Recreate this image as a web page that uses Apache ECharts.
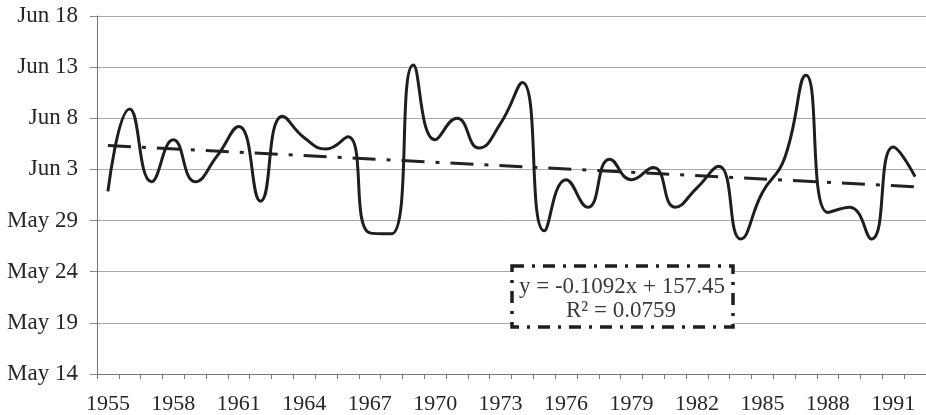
<!DOCTYPE html>
<html>
<head>
<meta charset="utf-8">
<script src="https://cdn.jsdelivr.net/npm/echarts@6/dist/echarts.min.js"></script>
<style>
  html, body { margin: 0; padding: 0; background: #ffffff; }
  #chart { width: 926px; height: 415px; }
</style>
</head>
<body>
<div id="chart"></div>
<script>
// Years on the category axis (labels shown every third year)
const years = [
  '1955','1956','1957','1958','1959','1960','1961','1962','1963','1964',
  '1965','1966','1967','1968','1969','1970','1971','1972','1973','1974',
  '1975','1976','1977','1978','1979','1980','1981','1982','1983','1984',
  '1985','1986','1987','1988','1989','1990','1991','1992'
];

// Date of each year's event as a day number (135 = May 14, 170 = Jun 18)
const eventDay = [
  152.85, 160.9, 153.8, 157.9, 153.8, 156.3, 159.2, 151.9, 160.2, 158.1,
  157.0, 158.2, 148.8, 148.7, 165.2, 157.9, 160.0, 157.1, 159.5, 163.5,
  149.0, 154.0, 151.3, 156.0, 154.0, 155.2, 151.3, 153.2, 155.3, 148.2,
  152.75, 156.0, 164.2, 150.8, 151.3, 148.2, 157.2, 154.3
];

// Linear trend y = -0.1092x + 157.45 at its first and last year
const trendEnds = [157.34, 153.30];

// Day-number axis labels from 135 to 170 in steps of 5
const yTickLabels = ['May 14', 'May 19', 'May 24', 'May 29', 'Jun 3', 'Jun 8', 'Jun 13', 'Jun 18'];
const yMin = 135, yMax = 170, yStep = 5;

const trendData = years.map((_, i) =>
  i === 0 ? trendEnds[0] : (i === years.length - 1 ? trendEnds[1] : null));

const serif = '"Liberation Serif", "DejaVu Serif", serif';
const chart = echarts.init(document.getElementById('chart'));

chart.setOption({
  animation: false,
  backgroundColor: '#ffffff',
  grid: { left: 97, right: 0, top: 16, bottom: 40 },
  xAxis: {
    type: 'category',
    data: years,
    boundaryGap: true,
    axisLine: { lineStyle: { color: '#777', width: 1 } },
    axisTick: { show: true, interval: 0, length: 5, lineStyle: { color: '#777' } },
    axisLabel: {
      interval: 2, margin: 19,
      fontFamily: serif, fontSize: 22, color: '#262626'
    },
    splitLine: { show: false }
  },
  yAxis: {
    type: 'value',
    min: yMin, max: yMax, interval: yStep,
    axisLine: { show: true, lineStyle: { color: '#777', width: 1 } },
    axisTick: { show: true, length: 7, lineStyle: { color: '#888' } },
    axisLabel: {
      margin: 19,
      fontFamily: serif, fontSize: 23, color: '#262626',
      formatter: v => yTickLabels[Math.round((v - yMin) / yStep)]
    },
    splitLine: { show: true, lineStyle: { color: '#aaaaaa', width: 1 } }
  },
  series: [
    {
      type: 'line',
      data: eventDay,
      smooth: 0.5,
      symbol: 'none',
      lineStyle: { color: '#1e1e1e', width: 3 },
      z: 3
    },
    {
      type: 'line',
      data: trendData,
      connectNulls: true,
      symbol: 'none',
      lineStyle: { color: '#222', width: 3, type: [23, 11, 4, 11] },
      z: 2
    }
  ],
  graphic: [
    {
      type: 'rect',
      z: 10,
      shape: { x: 512, y: 266, width: 221, height: 61 },
      style: { fill: '#ffffff', stroke: '#1e1e1e', lineWidth: 3.5, lineDash: [12, 8, 3, 8] }
    },
    {
      type: 'text',
      z: 11,
      x: 622, y: 287,
      style: {
        text: 'y = -0.1092x + 157.45',
        font: '23px ' + serif,
        fill: '#3a3a3a',
        align: 'center', verticalAlign: 'middle'
      }
    },
    {
      type: 'text',
      z: 11,
      x: 621, y: 311,
      style: {
        text: 'R² = 0.0759',
        font: '23px ' + serif,
        fill: '#3a3a3a',
        align: 'center', verticalAlign: 'middle'
      }
    }
  ]
});
</script>
</body>
</html>
